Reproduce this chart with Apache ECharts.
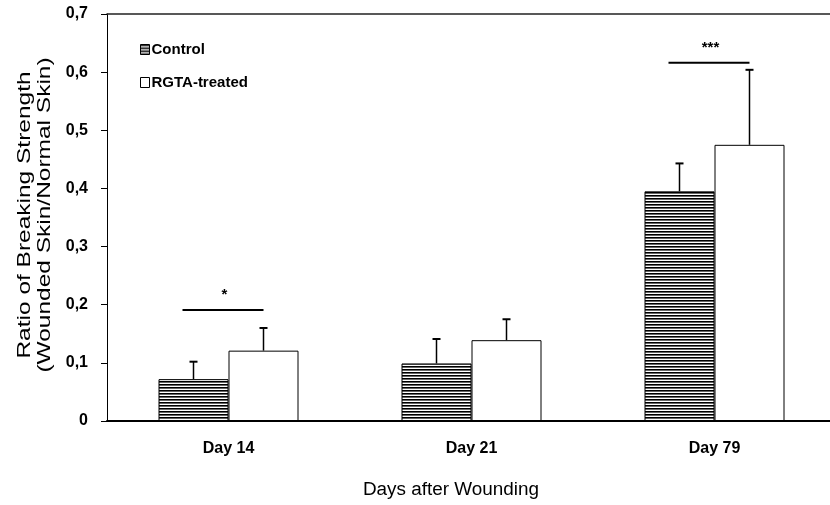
<!DOCTYPE html>
<html><head><meta charset="utf-8">
<script src="https://cdn.jsdelivr.net/npm/echarts@6/dist/echarts.min.js"></script>
<style>html,body{margin:0;padding:0;background:#fff}#c{width:830px;height:505px}</style>
</head><body><div id="c"></div>
<script>
var categories = ['Day 14', 'Day 21', 'Day 79'];
var controlMean = [0.072, 0.099, 0.395];
var controlErr = [0.102, 0.141, 0.443];
var rgtaMean = [0.121, 0.139, 0.475];
var rgtaErr = [0.160, 0.175, 0.604];
var sigLevel = [0.191, null, 0.616];
var sigLabel = ['*', '', '***'];
var yTicks = [0, 0.1, 0.2, 0.3, 0.4, 0.5, 0.6, 0.7];
var yTitle = 'Ratio of Breaking Strength\n(Wounded Skin/Normal Skin)';
var xTitle = 'Days after Wounding';

var pc = document.createElement('canvas');
pc.width = 4; pc.height = 3;
var g = pc.getContext('2d');
g.fillStyle = '#fff'; g.fillRect(0, 0, 4, 3);
g.fillStyle = '#000'; g.fillRect(0, 0, 4, 1);
g.fillStyle = '#666'; g.fillRect(0, 1, 4, 1);
var hatch = {image: pc, repeat: 'repeat'};

var chart = echarts.init(document.getElementById('c'));
var font = 'Liberation Sans, Arial, sans-serif';

function errSeries(means, errs, offset) {
  return {
    type: 'custom',
    silent: true,
    z: 5,
    data: means.map(function (m, i) { return [i, m, errs[i]]; }),
    renderItem: function (params, api) {
      var base = api.coord([api.value(0), api.value(1)]);
      var top = api.coord([api.value(0), api.value(2)]);
      var x = base[0] + offset;
      return {
        type: 'group',
        children: [
          {type: 'line', shape: {x1: x, y1: base[1], x2: x, y2: top[1]}, style: {stroke: '#000', lineWidth: 1.5}},
          {type: 'line', shape: {x1: x - 4, y1: top[1], x2: x + 4, y2: top[1]}, style: {stroke: '#000', lineWidth: 2}}
        ]
      };
    }
  };
}

chart.setOption({
  animation: false,
  backgroundColor: '#fff',
  grid: {left: 107, width: 729, top: 14, bottom: 84, show: false, outerBoundsMode: 'none', containLabel: false},
  graphic: [
    {type: 'text', x: 35, y: 215, rotation: Math.PI / 2, scaleX: 1.36, silent: true,
      style: {text: yTitle, font: '18px ' + font, fill: '#000', align: 'center', verticalAlign: 'middle', lineHeight: 20}},
    {type: 'text', x: 451, y: 490, scaleX: 1.05, silent: true,
      style: {text: xTitle, font: '18px ' + font, fill: '#000', align: 'center', verticalAlign: 'middle'}}
  ],
  legend: {
    orient: 'vertical', left: 135, top: 37, itemWidth: 9, itemHeight: 10, itemGap: 18,
    textStyle: {fontFamily: font, fontWeight: 'bold', fontSize: 15, color: '#000', padding: [0, 0, 0, -3]},
    data: [
      {name: 'Control', icon: 'rect', itemStyle: {color: hatch, borderColor: '#000', borderWidth: 1}},
      {name: 'RGTA-treated', icon: 'rect', itemStyle: {color: '#fff', borderColor: '#000', borderWidth: 1}}
    ]
  },
  xAxis: [{
    type: 'category', data: categories, boundaryGap: true,
    axisLine: {lineStyle: {color: '#000', width: 2}},
    axisTick: {show: false},
    axisLabel: {fontFamily: font, fontWeight: 'bold', fontSize: 16, color: '#000', margin: 20}
  }, {
    type: 'category', data: categories, position: 'top',
    axisLine: {show: true, lineStyle: {color: '#222', width: 1.5}},
    axisTick: {show: false}, axisLabel: {show: false}
  }],
  yAxis: {
    type: 'value', min: 0, max: 0.7, interval: 0.1,
    axisLine: {show: true, lineStyle: {color: '#000', width: 1}},
    axisTick: {show: true, length: 6, lineStyle: {color: '#000'}},
    splitLine: {show: false},
    axisLabel: {
      fontFamily: font, fontWeight: 'bold', fontSize: 16, color: '#000', margin: 19,
      formatter: function (v) {
        var t = yTicks.reduce(function (a, b) { return Math.abs(b - v) < Math.abs(a - v) ? b : a; });
        return t === 0 ? '0' : t.toFixed(1).replace('.', ',');
      }
    }
  },
  series: [
    {name: 'Control', type: 'bar', data: controlMean, barWidth: 70, barGap: '0%',
      itemStyle: {color: hatch, borderColor: '#000', borderWidth: 1}},
    {name: 'RGTA-treated', type: 'bar', data: rgtaMean, barWidth: 70, barGap: '0%',
      itemStyle: {color: '#fff', borderColor: '#000', borderWidth: 1}},
    errSeries(controlMean, controlErr, -35),
    errSeries(rgtaMean, rgtaErr, 35),
    {
      type: 'custom', silent: true, z: 6,
      data: sigLevel.map(function (v, i) { return [i, v == null ? 0 : v, v == null ? 0 : 1]; }),
      renderItem: function (params, api) {
        if (!api.value(2)) return null;
        var p = api.coord([api.value(0), api.value(1)]);
        var i = params.dataIndex;
        return {
          type: 'group',
          children: [
            {type: 'line', shape: {x1: p[0] - 46, y1: p[1], x2: p[0] + 35, y2: p[1]}, style: {stroke: '#000', lineWidth: 2}},
            {type: 'text', style: {text: sigLabel[i], x: p[0] - 4, y: p[1] - 15, align: 'center', verticalAlign: 'middle',
              font: 'bold 15px ' + font, fill: '#000'}}
          ]
        };
      }
    }
  ]
});
</script></body></html>
